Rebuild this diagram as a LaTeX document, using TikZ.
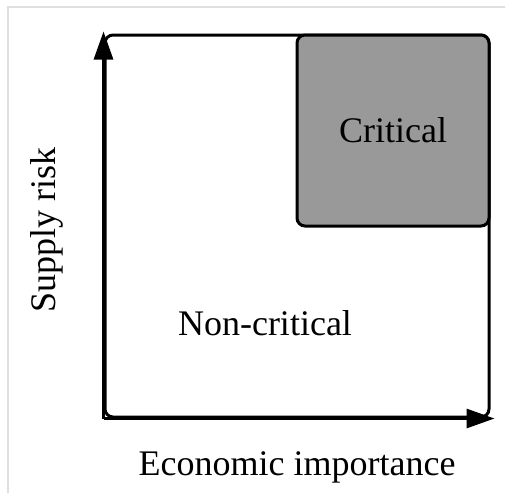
\documentclass[tikz,border=0pt]{standalone}
\usepackage{fontspec}
\setmainfont{Liberation Serif}
\usetikzlibrary{arrows.meta,positioning}
\tikzset{
  axis/.style={line width=3pt,-{Triangle[length=28pt,width=19pt]}},
  quadrant/.style={draw,line width=3pt,rounded corners=8pt,inner sep=0pt},
  lbl/.style={font=\fontsize{36}{40}\selectfont}
}
\begin{document}
\begin{tikzpicture}[x=1pt,y=-1pt]
\path[use as bounding box] (0,0) rectangle (505,493);
% light frame round the figure
\draw[gray!25,line width=1.5pt] (8,493) -- (8,7) -- (505,7);
% the whole field and the critical corner
\node(NR1)[quadrant,minimum width=384pt,minimum height=382pt] at (297,226) {};
\node(NR2)[quadrant,fill=black!40,minimum width=192pt,minimum height=191pt,anchor=north east,lbl] at (NR1.north east) {Critical};
\node(NR3)[lbl] at (265,323) {Non-critical};
% axes
\coordinate (O) at (NR1.south west);
\coordinate (ytip) at ([yshift=2pt]NR1.north west);
\coordinate (xtip) at ([xshift=4pt]NR1.south east);
\draw[axis] (O) -- (ytip);
\draw[axis] (O) -- (xtip);
\node(NR4)[lbl,below=30pt of NR1.south] {Economic importance};
\node(NR5)[lbl,rotate=90] at (47,230) {Supply risk};
\end{tikzpicture}
\end{document}
